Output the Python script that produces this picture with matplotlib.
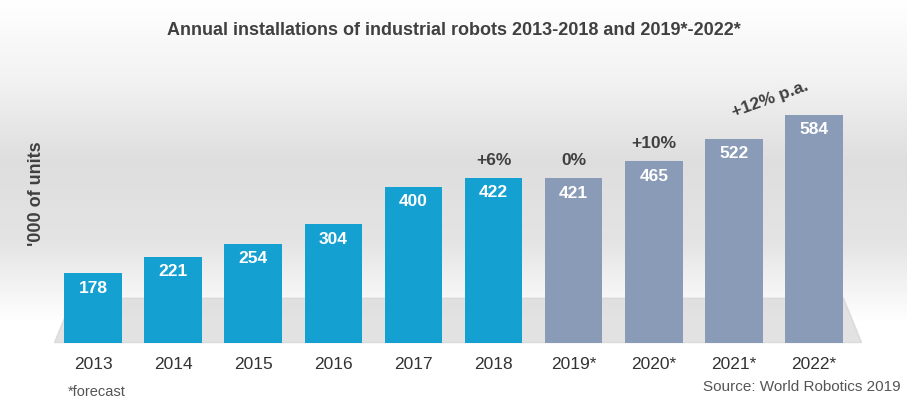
import matplotlib
matplotlib.use("Agg")
import matplotlib.pyplot as plt
import numpy as np
plt.rcParams["font.family"] = "Liberation Sans"

years = ["2013","2014","2015","2016","2017","2018","2019*","2020*","2021*","2022*"]
values = [178,221,254,304,400,422,421,465,522,584]
growth = {5:"+6%", 6:"0%", 7:"+10%"}

fig = plt.figure(figsize=(9.07,4.03), dpi=100)
bg = fig.add_axes([0,0,1,1]); bg.axis("off")
grad = np.linspace(0,1,200).reshape(-1,1)
cmap = matplotlib.colors.LinearSegmentedColormap.from_list("g", ["#ffffff","#f2f2f2","#dedede","#e4e4e4","#ffffff","#ffffff"])
bg.imshow(grad, aspect="auto", cmap=cmap, extent=[0,1,0,1], transform=bg.transAxes)
bg.add_patch(plt.Polygon([[0.06,0.15],[0.95,0.15],[0.93,0.26],[0.08,0.26]], color="#d0d0d0", alpha=0.6, transform=bg.transAxes))

ax = fig.add_axes([53/907, 60/403, 801/907, 254/403])
ax.patch.set_alpha(0)
x = np.arange(len(years))
colors = ["#15a0d2"]*6 + ["#8a9bb7"]*4
ax.bar(x, values, width=0.72, color=colors)
for i,v in enumerate(values):
    ax.text(i, v-38, str(v), ha="center", va="center", color="white", fontsize=12.5, fontweight="bold")
for i,t in growth.items():
    ax.text(i, values[i]+45, t, ha="center", va="center", color="#404040", fontsize=12.5, fontweight="bold")
ax.text(8.45, 625, "+12% p.a.", ha="center", va="center", rotation=20, color="#404040", fontsize=12.5, fontweight="bold")
ax.set_xlim(-0.5, 9.5); ax.set_ylim(0, 650)
ax.set_xticks(x); ax.set_xticklabels(years, fontsize=12.5, color="#333333")
ax.tick_params(length=0, pad=10)
ax.set_yticks([])
for s in ax.spines.values(): s.set_visible(False)
fig.text(0.04, 0.52, "'000 of units", rotation=90, ha="center", va="center", fontsize=13, fontweight="bold", color="#404040")
fig.text(0.5, 0.925, "Annual installations of industrial robots 2013-2018 and 2019*-2022*", ha="center", va="center", fontsize=13, fontweight="bold", color="#404040")
fig.text(0.075, 0.027, "*forecast", fontsize=10.5, color="#555555", va="center")
fig.text(0.993, 0.04, "Source: World Robotics 2019", fontsize=11, color="#555555", ha="right", va="center")
fig.savefig("out.png", dpi=100)
